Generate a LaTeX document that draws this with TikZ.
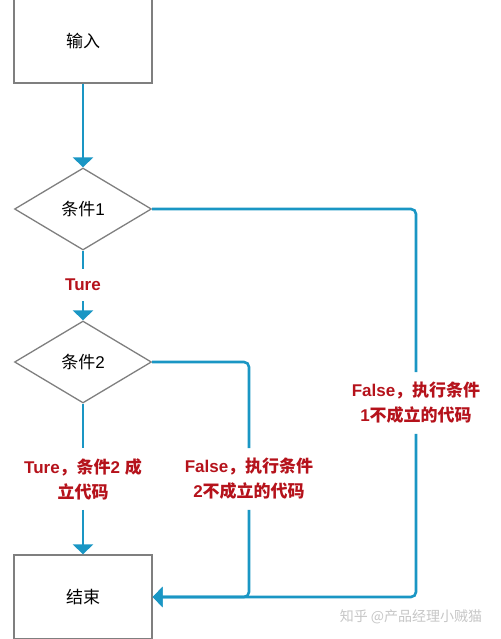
\documentclass[tikz,border=0pt]{standalone}
\usepackage{fontspec}
\setmainfont{Liberation Sans}
\newfontfamily\cjk{Noto Sans CJK SC}
\usetikzlibrary{shapes.geometric,arrows.meta}
\definecolor{flowblue}{HTML}{1A96C4}
\definecolor{labelred}{HTML}{B5121B}
\definecolor{boxgray}{HTML}{7F7F7F}
\tikzset{
  box/.style={draw=boxgray,line width=1.3pt,minimum width=138pt,minimum height=84pt},
  decision/.style={diamond,draw=boxgray,line width=1.3pt,minimum width=137pt,minimum height=82pt,inner sep=0pt},
  flow/.style={draw=flowblue,line width=2.6pt,rounded corners=5pt},
  flowarrow/.style={flow,-{Triangle[width=20pt,length=10pt]}},
  condlabel/.style={text=labelred,align=center,inner sep=10pt,font=\fontsize{17}{25}\selectfont\bfseries},
}
\begin{document}
\begin{tikzpicture}[x=1pt,y=-1pt,font=\fontsize{17}{25}\selectfont]
      \useasboundingbox (0,0) rectangle (500,639);

      \node[box] (input) at (83,41) {\cjk 输入};
      \node[decision] (cond1) at (83,209) {{\cjk 条件}1};
      \node[decision] (cond2) at (83,362) {{\cjk 条件}2};
      \node[box] (finish) at (83,597) {\cjk 结束};

      \node[condlabel] (ture1) at (83,285) {Ture};
      \node[condlabel] (ture2) at (83,479) {Ture{\cjk ，条件}2 {\cjk 成}\\{\cjk 立代码}};
      \node[condlabel] (false2) at (249,479) {False{\cjk ，执行条件}\\2{\cjk 不成立的代码}};
      \node[condlabel] (false1) at (416,403) {False{\cjk ，执行条件}\\1{\cjk 不成立的代码}};

      \draw[flowarrow] (input) -- (cond1);
      \draw[flow] (cond1) -- (ture1);
      \draw[flowarrow] (ture1) -- (cond2);
      \draw[flow] (cond2) -- (ture2);
      \draw[flowarrow] (ture2) -- (finish);

      \draw[flow] (cond2.east) -| (false2.north);
      \draw[flowarrow] (false2.south) |- (finish.east);
      \draw[flow] (cond1.east) -| (false1.north);
      \draw[flowarrow] (false1.south) |- (finish.east);

      \node[text=gray!45,font=\fontsize{14}{14}\selectfont\cjk] (mark) at (411,617) {知乎 @产品经理小贼猫};
    \end{tikzpicture}
\end{document}
